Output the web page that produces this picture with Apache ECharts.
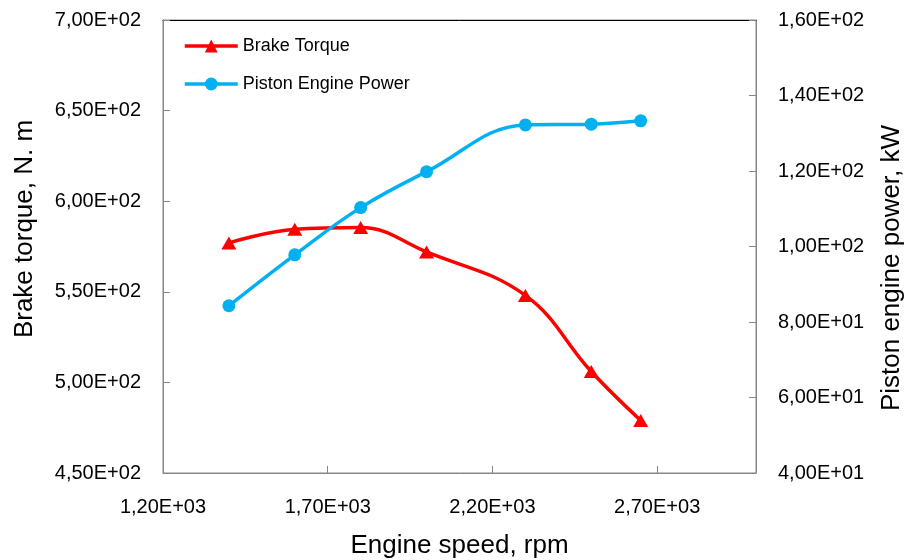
<!DOCTYPE html>
<html>
<head>
<meta charset="utf-8">
<script src="https://cdn.jsdelivr.net/npm/echarts@6/dist/echarts.min.js"></script>
<style>
  html, body { margin: 0; padding: 0; background: #fff; }
  #chart { width: 909px; height: 560px; }
</style>
</head>
<body>
<div id="chart"></div>
<script>
// Engine speed (rpm) and measured performance
const engineSpeed = [1400, 1600, 1800, 2000, 2300, 2500, 2650];
const brakeTorque = [577, 584.5, 585.5, 572, 548, 506, 479];     // N·m
const enginePower = [84.3, 97.8, 110.3, 119.8, 132.2, 132.4, 133.3]; // kW

const speedTicks = [1200, 1700, 2200, 2700];
const seriesNames = ['Brake Torque', 'Piston Engine Power'];
const axisTitles = {
  x: 'Engine speed, rpm',
  left: 'Brake torque, N. m',
  right: 'Piston engine power, kW'
};

const FONT = '"Liberation Sans", Arial, sans-serif';
const AXIS_GREY = '#878787';

// Excel-style scientific notation with a decimal comma: 7,00E+02
function sci(v) {
  const parts = v.toExponential(2).split('e');
  const n = parseInt(parts[1], 10);
  return parts[0].replace('.', ',') + 'E' + (n < 0 ? '-' : '+') + String(Math.abs(n)).padStart(2, '0');
}

const pairs = (xs, ys) => xs.map((x, i) => [x, ys[i]]);

const chart = echarts.init(document.getElementById('chart'), null, { renderer: 'canvas' });

chart.setOption({
  backgroundColor: '#fff',
  animation: false,
  textStyle: { fontFamily: FONT },
  grid: {
    left: 163, right: 153, top: 20, bottom: 87,
    containLabel: false, outerBoundsMode: 'none',
    show: true, borderColor: AXIS_GREY, borderWidth: 1, backgroundColor: 'transparent'
  },
  legend: {
    data: seriesNames,
    orient: 'vertical',
    left: 183,
    top: 37,
    padding: 0,
    itemWidth: 53,
    itemHeight: 16,
    itemGap: 20,
    lineStyle: { width: 3.5 },
    textStyle: { fontSize: 18, color: '#000', fontFamily: FONT }
  },
  xAxis: [
    {
      type: 'value',
      min: 1200,
      max: 3000,
      name: axisTitles.x,
      nameLocation: 'middle',
      nameGap: 60,
      nameTextStyle: { fontSize: 26, color: '#000', fontFamily: FONT },
      axisLine: { show: true, lineStyle: { color: AXIS_GREY, width: 1 } },
      axisTick: { show: true, inside: true, length: 7, customValues: speedTicks, lineStyle: { color: AXIS_GREY } },
      axisLabel: { customValues: speedTicks, formatter: sci, fontSize: 20, color: '#000', margin: 24, fontFamily: FONT },
      splitLine: { show: false }
    },
    {
      // black frame line along the top of the plot
      type: 'value',
      position: 'top',
      min: 1200,
      max: 3000,
      axisLine: { show: true, onZero: false, lineStyle: { color: '#000', width: 1 } },
      axisTick: { show: false },
      axisLabel: { show: false },
      splitLine: { show: false }
    }
  ],
  yAxis: [
    {
      type: 'value',
      position: 'left',
      min: 450,
      max: 700,
      interval: 50,
      axisLine: { show: true, lineStyle: { color: AXIS_GREY, width: 1 } },
      axisTick: { show: true, inside: true, length: 7, lineStyle: { color: AXIS_GREY } },
      axisLabel: { formatter: sci, fontSize: 20, color: '#000', margin: 22, fontFamily: FONT },
      splitLine: { show: false }
    },
    {
      type: 'value',
      position: 'right',
      min: 40,
      max: 160,
      interval: 20,
      axisLine: { show: true, lineStyle: { color: AXIS_GREY, width: 1 } },
      axisTick: { show: true, inside: true, length: 7, lineStyle: { color: AXIS_GREY } },
      axisLabel: { formatter: sci, fontSize: 20, color: '#000', margin: 22, fontFamily: FONT },
      splitLine: { show: false }
    }
  ],
  series: [
    {
      name: seriesNames[0],
      type: 'line',
      xAxisIndex: 0,
      yAxisIndex: 0,
      data: pairs(engineSpeed, brakeTorque),
      smooth: 0.4,
      symbol: 'triangle',
      symbolSize: [15, 13],
      lineStyle: { color: '#FF0000', width: 3.5 },
      itemStyle: { color: '#FF0000' },
      z: 2
    },
    {
      name: seriesNames[1],
      type: 'line',
      xAxisIndex: 0,
      yAxisIndex: 1,
      data: pairs(engineSpeed, enginePower),
      smooth: 0.4,
      symbol: 'circle',
      symbolSize: 13,
      lineStyle: { color: '#00B0F0', width: 3.5 },
      itemStyle: { color: '#00B0F0' },
      z: 3
    }
  ],
  graphic: [
    {
      type: 'text',
      x: 25,
      y: 229,
      rotation: Math.PI / 2,
      style: { text: axisTitles.left, fontSize: 26, fontFamily: FONT, fill: '#000', align: 'center', verticalAlign: 'middle' }
    },
    {
      type: 'text',
      x: 892,
      y: 268,
      rotation: Math.PI / 2,
      style: { text: axisTitles.right, fontSize: 26, fontFamily: FONT, fill: '#000', align: 'center', verticalAlign: 'middle' }
    }
  ]
});
</script>
</body>
</html>
